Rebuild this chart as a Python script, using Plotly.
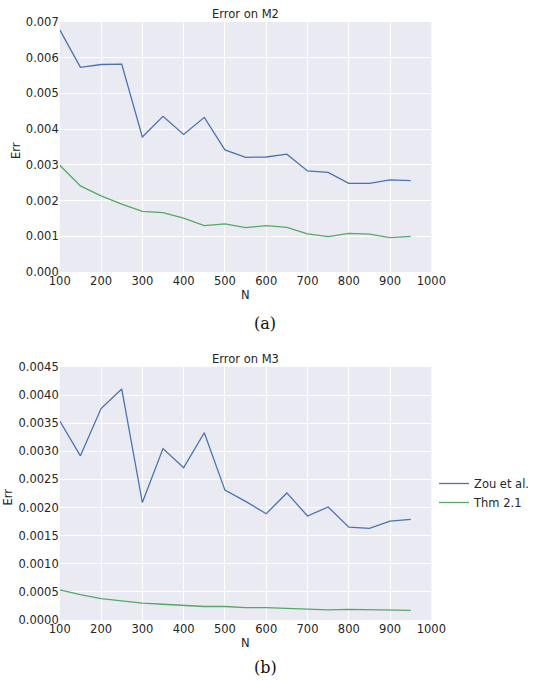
import plotly.graph_objects as go

N = [100, 150, 200, 250, 300, 350, 400, 450, 500, 550, 600, 650, 700, 750, 800, 850, 900, 950]

m2_zou = [0.00678, 0.00573, 0.00581, 0.00582, 0.00378, 0.00436, 0.00385, 0.00433, 0.00342, 0.00321,
          0.00322, 0.00330, 0.00283, 0.00279, 0.00248, 0.00248, 0.00258, 0.00256]
m2_thm = [0.00299, 0.00241, 0.00213, 0.00190, 0.00170, 0.00166, 0.00151, 0.00130, 0.00135, 0.00124,
          0.00130, 0.00125, 0.00107, 0.00099, 0.00108, 0.00106, 0.00096, 0.00100]

m3_zou = [0.00354, 0.00292, 0.00376, 0.00411, 0.00209, 0.00305, 0.00271, 0.00333, 0.00231, 0.00211,
          0.00189, 0.00226, 0.00185, 0.00201, 0.00165, 0.00163, 0.00176, 0.00179]
m3_thm = [0.000535, 0.00045, 0.00038, 0.00034, 0.00030, 0.00028, 0.00026, 0.00024, 0.00024, 0.00022,
          0.00022, 0.00021, 0.00019, 0.00018, 0.00019, 0.00018, 0.00017, 0.00017]

series_names = ["Zou et al.", "Thm 2.1"]
titles = ["Error on M2", "Error on M3"]
captions = ["(a)", "(b)"]

BLUE = "#4C72B0"
GREEN = "#55A868"
TXT = "#262626"
FONT = "DejaVu Sans"

W, H = 534, 681
def px(x):
    return x / W
def py(y):
    return 1 - y / H

fig = go.Figure()

fig.add_trace(go.Scatter(x=N, y=m2_zou, mode="lines", line=dict(color=BLUE, width=1.3),
                         xaxis="x", yaxis="y", showlegend=False, name=series_names[0]))
fig.add_trace(go.Scatter(x=N, y=m2_thm, mode="lines", line=dict(color=GREEN, width=1.3),
                         xaxis="x", yaxis="y", showlegend=False, name=series_names[1]))
fig.add_trace(go.Scatter(x=N, y=m3_zou, mode="lines", line=dict(color=BLUE, width=1.3),
                         xaxis="x2", yaxis="y2", name=series_names[0]))
fig.add_trace(go.Scatter(x=N, y=m3_thm, mode="lines", line=dict(color=GREEN, width=1.3),
                         xaxis="x2", yaxis="y2", name=series_names[1]))

axis_common = dict(showgrid=True, gridcolor="white", gridwidth=1, zeroline=False, automargin=False,
                   showline=False, ticks="", tickfont=dict(family=FONT, size=11.5, color=TXT))

xdom = [px(60), px(433)]
fig.update_layout(
    width=W, height=H,
    margin=dict(l=0, r=0, t=0, b=0),
    paper_bgcolor="white",
    plot_bgcolor="#EAEAF2",
    font=dict(family=FONT, size=11, color=TXT),
    xaxis=dict(domain=xdom, anchor="y", range=[100, 1000], tickvals=list(range(100, 1001, 100)), **axis_common),
    yaxis=dict(domain=[py(272), py(22)], anchor="x", range=[0, 0.007], dtick=0.001, tickformat=".3f", **axis_common),
    xaxis2=dict(domain=xdom, anchor="y2", range=[100, 1000], tickvals=list(range(100, 1001, 100)), **axis_common),
    yaxis2=dict(domain=[py(620), py(367)], anchor="x2", range=[0, 0.0045], dtick=0.0005, tickformat=".4f", **axis_common),
    legend=dict(x=px(436), y=py(493), xanchor="left", yanchor="middle", bgcolor="rgba(0,0,0,0)",
                font=dict(family=FONT, size=11.5, color=TXT), itemwidth=30, tracegroupgap=0),
)

ann = []
for i, (ytop, ybot) in enumerate([(22, 272), (367, 620)]):
    ann.append(dict(text=titles[i], x=px(246.5), y=py(ytop - 8), xref="paper", yref="paper",
                    showarrow=False, xanchor="center", yanchor="middle",
                    font=dict(family=FONT, size=11.5, color=TXT)))
    ann.append(dict(text="N", x=px(246.5), y=py(ybot + 23), xref="paper", yref="paper",
                    showarrow=False, xanchor="center", yanchor="middle",
                    font=dict(family=FONT, size=11.5, color=TXT)))
    ann.append(dict(text="Err", x=px(16 if i == 0 else 8), y=py((ytop + ybot) / 2 + 3),
                    xref="paper", yref="paper",
                    showarrow=False, xanchor="center", yanchor="middle", textangle=-90,
                    font=dict(family=FONT, size=11.5, color=TXT)))
    ann.append(dict(text=captions[i], x=px(266), y=py(323 if i == 0 else 667), xref="paper", yref="paper",
                    showarrow=False, xanchor="center", yanchor="middle",
                    font=dict(family="DejaVu Serif", size=16, color="#111111")))
fig.update_layout(annotations=ann)

fig.write_html("out.html")
